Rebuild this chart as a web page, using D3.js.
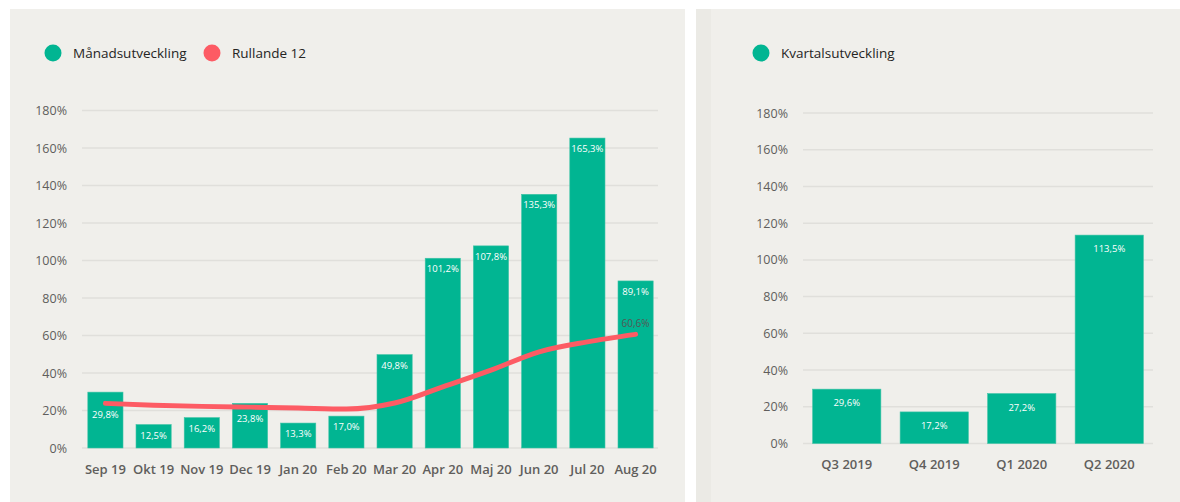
<!DOCTYPE html>
<html>

<head>
    <meta charset="UTF-8">
    <title>Månads- och kvartalsutveckling</title>
    <script src="https://d3js.org/d3.v7.min.js"></script>
    <style>
        body { margin: 0; background: #fff; }
        svg { display: block; font-family: "Open Sans", "Noto Sans", sans-serif; }
    </style>
</head>

<body>
    <script>
        // monthly chart
        const months = ["Sep 19", "Okt 19", "Nov 19", "Dec 19", "Jan 20", "Feb 20", "Mar 20", "Apr 20", "Maj 20", "Jun 20", "Jul 20", "Aug 20"];
        const monthly = [29.8, 12.5, 16.2, 23.8, 13.3, 17.0, 49.8, 101.2, 107.8, 135.3, 165.3, 89.1];
        const rolling12 = [23.8, 22.8, 22.2, 21.8, 21.3, 20.8, 24.0, 32.6, 41.5, 51.3, 56.6, 60.6];

        // quarterly chart
        const quarters = ["Q3 2019", "Q4 2019", "Q1 2020", "Q2 2020"];
        const quarterly = [29.6, 17.2, 27.2, 113.5];

        const yTicks = [0, 20, 40, 60, 80, 100, 120, 140, 160, 180];

        const green = "#01b592", red = "#fd5b64", bg = "#f0efeb";
        const fmt = v => d3.format(".1f")(v).replace(".", ",") + "%";

        const svg = d3.select("body").append("svg")
            .attr("width", 1180).attr("height", 502);

        // panels
        svg.append("rect").attr("x", 10).attr("y", 9).attr("width", 675).attr("height", 493).attr("fill", bg);
        svg.append("rect").attr("x", 696).attr("y", 9).attr("width", 484).attr("height", 493).attr("fill", bg);
        svg.append("rect").attr("x", 696).attr("y", 9).attr("width", 15).attr("height", 493).attr("fill", "#ebeae5");

        function legend(g, items) {
            items.forEach(it => {
                g.append("circle").attr("cx", it.x).attr("cy", 53).attr("r", 8.5).attr("fill", it.color);
                g.append("text").attr("x", it.x + 20).attr("y", 58)
                    .attr("font-size", 13.5).attr("fill", "#252423").text(it.label);
            });
        }

        function yAxis(g, y, x0, x1) {
            g.selectAll(".grid").data(yTicks).enter().append("line")
                .attr("x1", x0).attr("x2", x1)
                .attr("y1", d => y(d)).attr("y2", d => y(d))
                .attr("stroke", "#e0dfdb").attr("stroke-width", 1.5);
            g.selectAll(".yl").data(yTicks).enter().append("text")
                .attr("x", x0 - 15).attr("y", d => y(d) + 4.5)
                .attr("text-anchor", "end").attr("font-size", 12.5).attr("fill", "#605e5c")
                .text(d => d + "%");
        }

        // ---------- left chart ----------
        const left = svg.append("g");
        const x1 = d3.scaleBand().domain(months).range([83, 658]).paddingInner(0.27).paddingOuter(0.1);
        const y1 = d3.scaleLinear().domain([0, 180]).range([448, 110.5]);

        legend(left, [
            { x: 53, color: green, label: "Månadsutveckling" },
            { x: 212, color: red, label: "Rullande 12" }
        ]);
        yAxis(left, y1, 82, 658);

        left.selectAll(".bar").data(monthly).enter().append("rect")
            .attr("x", (d, i) => x1(months[i]))
            .attr("width", x1.bandwidth())
            .attr("y", d => y1(d))
            .attr("height", d => y1(0) - y1(d))
            .attr("fill", green).attr("stroke", "#3ec3a6").attr("stroke-width", 0.6);

        const line = d3.line()
            .x((d, i) => x1(months[i]) + x1.bandwidth() / 2)
            .y(d => y1(d))
            .curve(d3.curveMonotoneX);

        left.append("path").datum(rolling12)
            .attr("d", line)
            .attr("fill", "none").attr("stroke", red)
            .attr("stroke-width", 5).attr("stroke-linecap", "round");

        // bar labels: inside end, pushed below the line when they would collide
        left.selectAll(".bl").data(monthly).enter().append("text")
            .attr("x", (d, i) => x1(months[i]) + x1.bandwidth() / 2)
            .attr("y", (d, i) => {
                const top = y1(d) + 14;
                const ly = y1(rolling12[i]);
                return (top > ly - 6 && top < ly + 12) ? ly + 15 : top;
            })
            .attr("text-anchor", "middle").attr("font-size", 9.5).attr("fill", "#fff")
            .text(d => fmt(d));

        const last = rolling12.length - 1;
        left.append("text")
            .attr("x", x1(months[last]) + x1.bandwidth() / 2)
            .attr("y", y1(rolling12[last]) - 7)
            .attr("text-anchor", "middle").attr("font-size", 10).attr("fill", "#555")
            .text(fmt(rolling12[last]));

        left.selectAll(".xl").data(months).enter().append("text")
            .attr("x", d => x1(d) + x1.bandwidth() / 2)
            .attr("y", 474)
            .attr("text-anchor", "middle").attr("font-size", 13).attr("font-weight", 600)
            .attr("fill", "#605e5c").text(d => d);

        // ---------- right chart ----------
        const right = svg.append("g");
        const x2 = d3.scaleBand().domain(quarters).range([803, 1153]).paddingInner(0.22).paddingOuter(0.11);
        const y2 = d3.scaleLinear().domain([0, 180]).range([443.5, 113]);

        legend(right, [{ x: 761, color: green, label: "Kvartalsutveckling" }]);
        yAxis(right, y2, 803, 1153);

        right.selectAll(".bar").data(quarterly).enter().append("rect")
            .attr("x", (d, i) => x2(quarters[i]))
            .attr("width", x2.bandwidth())
            .attr("y", d => y2(d))
            .attr("height", d => y2(0) - y2(d))
            .attr("fill", green).attr("stroke", "#3ec3a6").attr("stroke-width", 0.6);

        right.selectAll(".bl").data(quarterly).enter().append("text")
            .attr("x", (d, i) => x2(quarters[i]) + x2.bandwidth() / 2)
            .attr("y", d => y2(d) + 17)
            .attr("text-anchor", "middle").attr("font-size", 9.5).attr("fill", "#fff")
            .text(d => fmt(d));

        right.selectAll(".xl").data(quarters).enter().append("text")
            .attr("x", d => x2(d) + x2.bandwidth() / 2)
            .attr("y", 469)
            .attr("text-anchor", "middle").attr("font-size", 13).attr("font-weight", 600)
            .attr("fill", "#605e5c").text(d => d);
    </script>
</body>

</html>
